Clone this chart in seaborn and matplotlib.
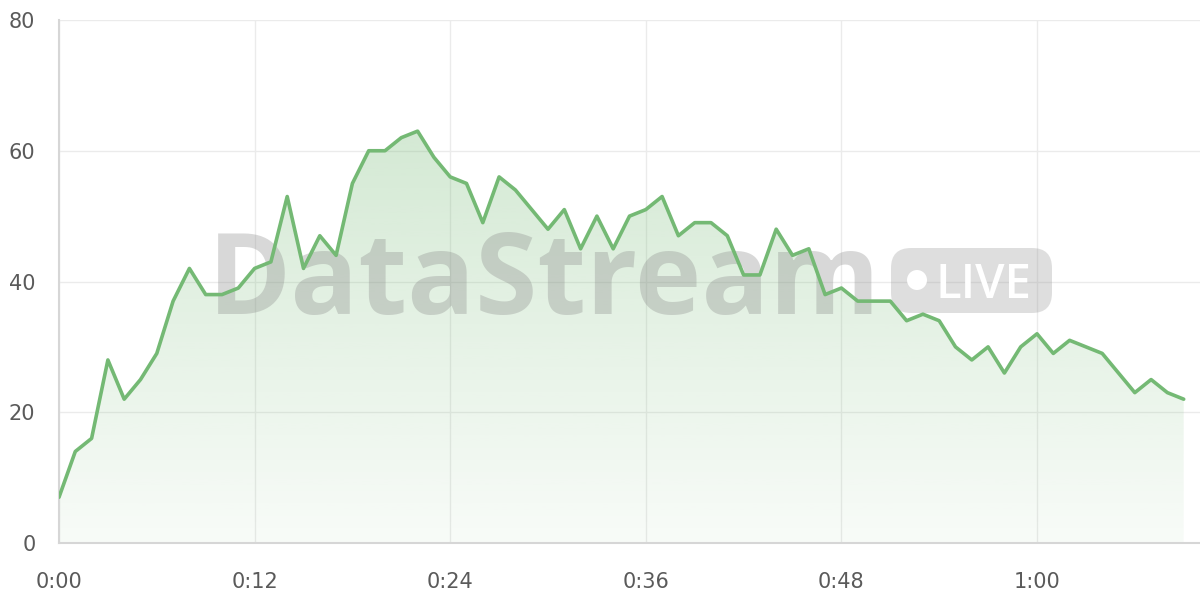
import numpy as np
import pandas as pd
import matplotlib.pyplot as plt
import seaborn as sns
from matplotlib.colors import to_rgb
from matplotlib.patches import FancyBboxPatch, Circle

# --- Data ---
seconds = list(range(70))
values = [7, 14, 16, 28, 22, 25, 29, 37, 42, 38,
          38, 39, 42, 43, 53, 42, 47, 44, 55, 60,
          60, 62, 63, 59, 56, 55, 49, 56, 54, 51,
          48, 51, 45, 50, 45, 50, 51, 53, 47, 49,
          49, 47, 41, 41, 48, 44, 45, 38, 39, 37,
          37, 37, 34, 35, 34, 30, 28, 30, 26, 30,
          32, 29, 31, 30, 29, 26, 23, 25, 23, 22]
x_ticks = [0, 12, 24, 36, 48, 60]
x_tick_labels = ['0:00', '0:12', '0:24', '0:36', '0:48', '1:00']
y_ticks = [0, 20, 40, 60, 80]
watermark = 'DataStream'
badge_text = 'LIVE'

df = pd.DataFrame({'t': seconds, 'value': values})

LINE_COLOR = '#74b974'
GRID_COLOR = '#ebebeb'
SPINE_COLOR = '#d6d6d6'
LABEL_COLOR = '#5a5a5a'

sns.set_style('white')
plt.rcParams['font.family'] = ['DejaVu Sans']

fig = plt.figure(figsize=(12, 6), dpi=100)
ax = fig.add_axes([59 / 1200, 57 / 600, 1 - 59 / 1200, (543 - 20) / 600])

# --- gradient fill under the line ---
grad = np.linspace(0, 1, 256).reshape(-1, 1)
rgba = np.zeros((256, 1, 4))
rgba[..., :3] = to_rgb(LINE_COLOR)
rgba[..., 3] = 0.05 + 0.26 * grad
im = ax.imshow(rgba, aspect='auto', origin='lower',
               extent=[seconds[0], seconds[-1], 0, max(values)], zorder=1)
poly = ax.fill_between(df['t'], df['value'], 0, color='none', lw=0)
im.set_clip_path(poly.get_paths()[0], transform=ax.transData)

# --- watermark (placed in inch coordinates) ---
ax.text(2.08, 2.86, watermark, transform=fig.dpi_scale_trans,
        fontsize=81, fontweight='bold', family='Open Sans',
        color='#888888', alpha=0.32, ha='left', va='baseline',
        zorder=2, clip_on=False)
badge = FancyBboxPatch((8.91, 2.87), 1.61, 0.65,
                       boxstyle='round,pad=0,rounding_size=0.2',
                       transform=fig.dpi_scale_trans, facecolor='#888888',
                       edgecolor='none', alpha=0.27, zorder=2, clip_on=False)
ax.add_artist(badge)
ax.add_artist(Circle((9.17, 3.20), 0.10, transform=fig.dpi_scale_trans,
                     facecolor='white', edgecolor='none', zorder=2.1,
                     clip_on=False))
ax.text(9.36, 3.02, badge_text, transform=fig.dpi_scale_trans,
        fontsize=34, family='Open Sans', fontweight='semibold',
        color='white', ha='left', va='baseline', zorder=2.1, clip_on=False)

# --- line ---
sns.lineplot(data=df, x='t', y='value', ax=ax, color=LINE_COLOR,
             linewidth=2.6, zorder=3)

ax.set_xlim(0, 70)
ax.set_ylim(0, 80)
ax.set_xticks(x_ticks)
ax.set_xticklabels(x_tick_labels)
ax.set_yticks(y_ticks)
ax.set_xlabel('')
ax.set_ylabel('')

ax.grid(True, color=GRID_COLOR, linewidth=1)
ax.set_axisbelow(True)
for side in ['top', 'right']:
    ax.spines[side].set_visible(False)
for side in ['left', 'bottom']:
    ax.spines[side].set_color(SPINE_COLOR)
    ax.spines[side].set_linewidth(1.5)

ax.tick_params(axis='y', length=11, width=1, color=GRID_COLOR, pad=6,
               labelsize=15, labelcolor=LABEL_COLOR)
ax.tick_params(axis='x', length=9, width=1, color=GRID_COLOR, pad=12,
               labelsize=15, labelcolor=LABEL_COLOR)

fig.savefig('out.png', dpi=100)
